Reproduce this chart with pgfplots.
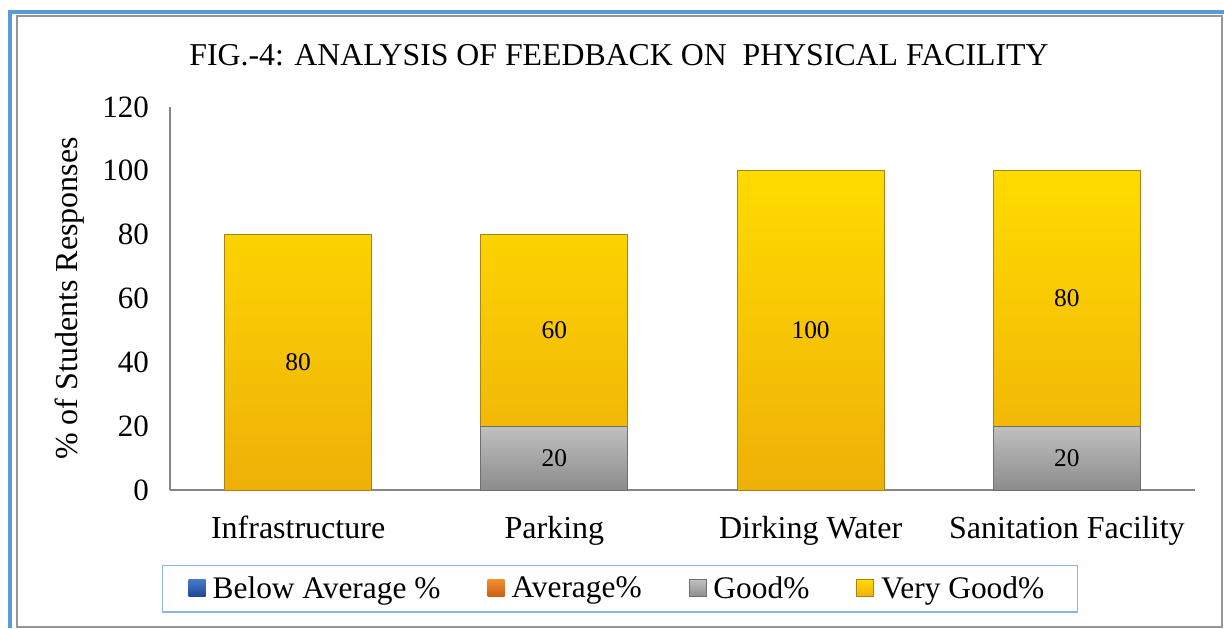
\documentclass[border=0pt]{standalone}
\usepackage{pgfplots}
\usepackage{pgfplotstable}
\pgfplotsset{compat=1.18}
\usepackage{fontspec}
\setmainfont{Liberation Serif}
\definecolor{frameblue}{RGB}{91,155,213}
\definecolor{framegray}{RGB}{150,150,150}
\definecolor{legblue}{RGB}{141,180,226}
\definecolor{axgray}{RGB}{134,134,134}
\definecolor{yel1}{RGB}{255,219,0}
\definecolor{yel2}{RGB}{238,176,8}
\definecolor{yel3}{RGB}{170,130,20}
\definecolor{gry1}{RGB}{192,192,192}
\definecolor{gry2}{RGB}{140,140,140}
\definecolor{gry3}{RGB}{110,110,110}
\definecolor{blu1}{RGB}{70,120,200}
\definecolor{blu2}{RGB}{30,70,150}
\definecolor{ora1}{RGB}{245,140,50}
\definecolor{ora2}{RGB}{200,95,20}
\pgfplotstableread{
x below avg good vgood
0 0 0 0 80
1 0 0 20 60
2 0 0 0 100
3 0 0 20 80
}\datatable
\begin{document}
\begin{tikzpicture}
\path[use as bounding box] (0pt,0pt) rectangle (612pt,314pt);
\draw[frameblue, line width=2pt] (5pt,0pt) -- (5pt,308pt) -- (612pt,308pt);
\draw[framegray, line width=1pt] (8.5pt,0.5pt) rectangle (611pt,306pt);
\node[font=\fontsize{15.9}{18}\selectfont] at (309.5pt,286.5pt) {FIG.-4: ANALYSIS OF FEEDBACK ON\ \ PHYSICAL FACILITY};
\begin{axis}[
  at={(85pt,69pt)}, anchor=south west,
  scale only axis, width=512.5pt, height=191.5pt,
  ybar stacked, bar width=73.5pt,
  xmin=-0.5, xmax=3.5, ymin=0, ymax=120,
  xtick=data, xticklabels={Infrastructure,Parking,Dirking Water,Sanitation Facility},
  ytick={0,20,...,120},
  axis x line=bottom, axis y line=left,
  axis line style={-, axgray, line width=0.8pt},
  major tick length=0pt,
  /pgf/number format/assume math mode=true,
  tick label style={font=\fontsize{15.5}{18}\selectfont},
  xticklabel style={font=\fontsize{16}{19}\selectfont, yshift=-9.5pt},
  yticklabel style={xshift=-7pt},
  ylabel={\% of Students Responses},
  ylabel style={font=\fontsize{16}{19}\selectfont, at={(axis description cs:-0.0976,0.5)}, anchor=center},
  legend columns=4,
  legend style={at={(axis description cs:0.439,-0.258)}, anchor=center,
    draw=legblue, line width=0.8pt, font=\fontsize{15.7}{18}\selectfont,
    inner xsep=13pt, inner ysep=3.5pt,
    nodes={inner xsep=3.5pt},
    /tikz/every even column/.append style={column sep=20pt}},
  legend image code/.code={\path[#1, line width=0.4pt] (0pt,-4pt) rectangle (8.5pt,4.5pt);},
  visualization depends on=rawy\as\rawy,
  every node near coord/.append style={font=\fontsize{12.7}{15}\selectfont, anchor=center},
]
\addplot[draw=none, top color=blu1, bottom color=blu2, shading=axis] table[x=x,y=below]{\datatable};
\addlegendentry{Below Average \%}
\addplot[draw=none, top color=ora1, bottom color=ora2, shading=axis] table[x=x,y=avg]{\datatable};
\addlegendentry{Average\%}
\addplot[draw=gry3, line width=0.5pt, top color=gry1, bottom color=gry2, shading=axis,
  nodes near coords={\ifdim\rawy pt>0pt \pgfmathprintnumber{\rawy}\fi}] table[x=x,y=good]{\datatable};
\addlegendentry{Good\%}
\addplot[draw=yel3, line width=0.5pt, top color=yel1, bottom color=yel2, shading=axis,
  nodes near coords={\pgfmathprintnumber{\rawy}}] table[x=x,y=vgood]{\datatable};
\addlegendentry{Very Good\%}
\end{axis}
\end{tikzpicture}
\end{document}
